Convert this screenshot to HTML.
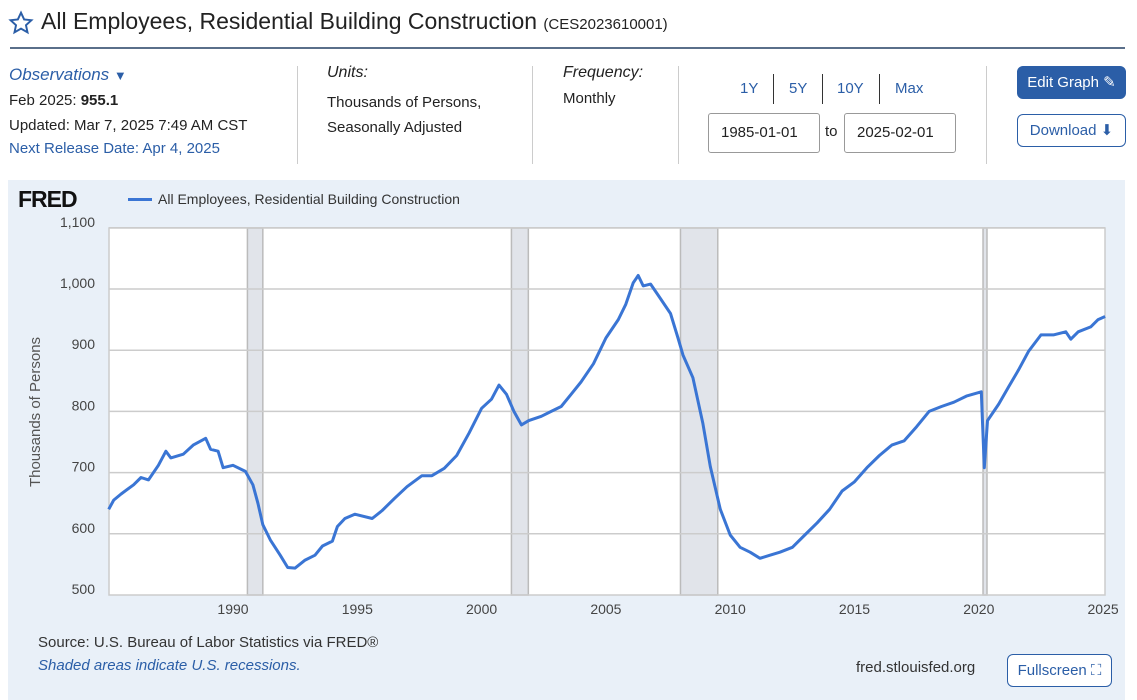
<!DOCTYPE html>
<html><head><meta charset="utf-8"><style>
body{margin:0;width:1137px;height:700px;background:#fff;font-family:"Liberation Sans",sans-serif;color:#222;position:relative;overflow:hidden}
.a{position:absolute;white-space:nowrap}
.blue{color:#2b5ea7}
.btn{position:absolute;border:1px solid #2b5ea7;border-radius:6px;color:#2b5ea7;font-size:15px;text-align:center}
.inp{position:absolute;border:1px solid #999;border-radius:3px;font-size:15px;padding:0 0 0 12px;box-sizing:border-box;line-height:38px;height:40px}
.vs{position:absolute;width:1px;background:#ccc}
</style></head><body>
<svg class="a" style="left:8px;top:10px" width="26" height="26" viewBox="0 0 24 24"><path d="M12 2.5l2.9 6.2 6.7.7-5 4.6 1.4 6.6L12 17.2l-6 3.4 1.4-6.6-5-4.6 6.7-.7z" fill="none" stroke="#2b5ea7" stroke-width="1.8"/></svg>
<div class="a" style="left:41px;top:8px;font-size:23px">All Employees, Residential Building Construction <span style="font-size:15px">(CES2023610001)</span></div>
<div class="a" style="left:10px;top:47px;width:1115px;height:2px;background:#5a6f8a"></div>
<div class="a blue" style="left:9px;top:65px;font-size:17px;font-style:italic">Observations <span style="font-style:normal;font-size:13px">&#9660;</span></div>
<div class="a" style="left:9px;top:92px;font-size:15px">Feb 2025: <b>955.1</b></div>
<div class="a" style="left:9px;top:117px;font-size:15px">Updated: Mar 7, 2025 7:49 AM CST</div>
<div class="a blue" style="left:9px;top:140px;font-size:15px">Next Release Date: Apr 4, 2025</div>
<div class="vs" style="left:297px;top:66px;height:98px"></div>
<div class="a" style="left:327px;top:64px;font-size:16px;font-style:italic">Units:</div>
<div class="a" style="left:327px;top:90px;font-size:15px;line-height:25px">Thousands of Persons,<br>Seasonally Adjusted</div>
<div class="vs" style="left:532px;top:66px;height:98px"></div>
<div class="a" style="left:563px;top:64px;font-size:16px;font-style:italic">Frequency:</div>
<div class="a" style="left:563px;top:90px;font-size:15px">Monthly</div>
<div class="vs" style="left:678px;top:66px;height:98px"></div>
<div class="a blue" style="left:740px;top:80px;font-size:15px">1Y</div>
<div class="vs" style="left:773px;top:74px;height:30px;background:#333"></div>
<div class="a blue" style="left:789px;top:80px;font-size:15px">5Y</div>
<div class="vs" style="left:822px;top:74px;height:30px;background:#333"></div>
<div class="a blue" style="left:837px;top:80px;font-size:15px">10Y</div>
<div class="vs" style="left:879px;top:74px;height:30px;background:#333"></div>
<div class="a blue" style="left:895px;top:80px;font-size:15px">Max</div>
<div class="inp" style="left:708px;top:113px;width:112px">1985-01-01</div>
<div class="a" style="left:825px;top:123px;font-size:15px">to</div>
<div class="inp" style="left:844px;top:113px;width:112px">2025-02-01</div>
<div class="vs" style="left:986px;top:66px;height:98px"></div>
<div class="btn" style="left:1017px;top:66px;width:107px;height:31px;line-height:31px;background:#2b5ea7;color:#fff">Edit Graph &#9998;</div>
<div class="btn" style="left:1017px;top:114px;width:107px;height:31px;line-height:31px">Download &#11015;</div>
<div class="a" style="left:8px;top:180px;width:1117px;height:520px;background:#e9f0f8"></div>
<div class="a" style="left:18px;top:186px;font-size:23px;font-weight:bold;letter-spacing:-1px;color:#111">FRED</div>
<div class="a" style="left:128px;top:198px;width:24px;height:3px;background:#3a75d4"></div>
<div class="a" style="left:158px;top:191px;font-size:14px;color:#333">All Employees, Residential Building Construction</div>
<svg class="a" style="left:0;top:0" width="1137" height="700" id="s">
<g id="g"></g>
</svg>
<div class="a" style="left:38px;top:634px;font-size:15px;color:#333">Source: U.S. Bureau of Labor Statistics via FRED®</div>
<div class="a blue" style="left:38px;top:657px;font-size:15px;font-style:italic">Shaded areas indicate U.S. recessions.</div>
<div class="a" style="left:856px;top:659px;font-size:15px;color:#333">fred.stlouisfed.org</div>
<div class="btn" style="left:1007px;top:654px;width:103px;height:31px;line-height:31px;background:#fff">Fullscreen &#x26F6;</div>
<script>
var X=function(t){return 108.7+(t-1985)*24.86},Y=function(v){return 595-(v-500)*0.612};
var h='<rect x="109" y="228" width="996" height="367" fill="#fff"/>';
[[1990.58,1991.2],[2001.2,2001.88],[2008,2009.5],[2020.17,2020.33]].forEach(function(r){h+='<rect x="'+X(r[0])+'" y="228" width="'+(X(r[1])-X(r[0]))+'" height="367" fill="#e1e4ea" stroke="#bbb" stroke-width="1.5"/>'});
for(var v=600;v<=1100;v+=100)h+='<line x1="109" x2="1105" y1="'+Y(v)+'" y2="'+Y(v)+'" stroke="#ccc" stroke-width="1.5"/>';
h+='<rect x="109" y="228" width="996" height="367" fill="none" stroke="#ccc" stroke-width="1.5"/>';
for(var v=500;v<=1100;v+=100)h+='<text x="95" y="'+(Y(v)-1)+'" text-anchor="end" font-size="14" fill="#444" font-family="Liberation Sans">'+(v>=1000?'1,'+String(v-1000).padStart(3,'0'):v)+'</text>';
for(var y=1990;y<=2025;y+=5)h+='<text x="'+X(y)+'" y="614" text-anchor="middle" font-size="14" fill="#444" font-family="Liberation Sans">'+y+'</text>';
h+='<text transform="translate(40,412) rotate(-90)" text-anchor="middle" font-size="15" fill="#555" font-family="Liberation Sans">Thousands of Persons</text>';
var d=[1985,640,1985.2,655,1985.5,665,1986,680,1986.3,692,1986.6,688,1987,712,1987.3,735,1987.5,724,1988,730,1988.4,745,1988.9,756,1989.1,738,1989.4,735,1989.6,708,1990,712,1990.5,702,1990.8,680,1991,650,1991.2,615,1991.5,590,1991.9,565,1992.2,545,1992.5,544,1992.9,557,1993.3,565,1993.6,580,1994,588,1994.2,612,1994.5,625,1994.9,632,1995.6,625,1996,638,1996.5,658,1997,677,1997.6,695,1998,695,1998.5,707,1999,728,1999.5,765,2000,805,2000.4,820,2000.7,843,2001,828,2001.3,800,2001.6,778,2001.9,785,2002.4,792,2002.8,800,2003.2,808,2003.6,828,2004,848,2004.5,878,2005,920,2005.5,950,2005.8,975,2006.1,1010,2006.3,1022,2006.5,1005,2006.8,1008,2007.1,990,2007.6,960,2007.9,920,2008.1,892,2008.5,855,2008.9,780,2009.2,710,2009.6,640,2010,598,2010.4,578,2010.8,570,2011.2,560,2011.6,565,2012,570,2012.5,578,2013,598,2013.5,618,2014,640,2014.5,670,2015,685,2015.5,708,2016,728,2016.5,745,2017,752,2017.5,775,2018,800,2018.5,808,2019,815,2019.5,825,2020.1,832,2020.22,708,2020.35,785,2020.8,812,2021.2,840,2021.6,868,2022,898,2022.5,925,2023,925,2023.5,930,2023.7,918,2024,930,2024.5,938,2024.8,950,2025.08,955];
var p='';for(var i=0;i<d.length;i+=2)p+=X(d[i]).toFixed(1)+','+Y(d[i+1]).toFixed(1)+' ';
h+='<polyline points="'+p+'" fill="none" stroke="#3a75d4" stroke-width="3" stroke-linejoin="round"/>';
document.getElementById('g').innerHTML=h;
</script>
</body></html>
